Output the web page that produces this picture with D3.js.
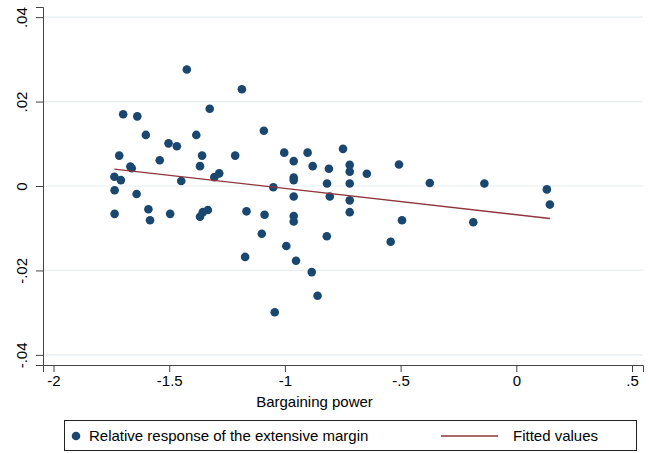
<!DOCTYPE html>
<html>
<head>
<meta charset="utf-8">
<script src="https://cdn.jsdelivr.net/npm/d3@7"></script>
<style>
  body { margin: 0; background: #fff; }
  svg { display: block; font-family: "Liberation Sans", Arial, sans-serif; }
</style>
</head>
<body>
<svg id="chart"></svg>
<script>
// bargaining power (x) and relative response of the extensive margin (y)
const bargaining = [
  -1.424, -1.186, -1.699, -1.638, -1.325, -1.601, -1.383, -1.091, -1.503, -1.467,
  -1.716, -1.541, -1.358, -1.367, -1.215, -1.003, -0.962, -1.668, -1.662, -1.737,
  -1.709, -1.448, -1.305, -1.284, -1.050, -0.962, -0.962, -1.736, -1.641, -0.962,
  -1.590, -1.583, -1.736, -1.496, -1.367, -1.355, -1.333, -1.166, -1.088, -0.962,
  -0.962, -1.172, -1.100, -0.994, -0.952, -1.044, -0.902, -0.749, -0.880, -0.810,
  -0.720, -0.720, -0.646, -0.507, -0.818, -0.720, -0.374, -0.806, -0.720, -0.720,
  -0.494, -0.819, -0.543, -0.884, -0.859, -0.138, 0.132, 0.145, -0.186
];
const response = [
  0.0276, 0.0229, 0.0170, 0.0165, 0.0183, 0.0121, 0.0121, 0.0131, 0.0101, 0.0094,
  0.0072, 0.0061, 0.0072, 0.0047, 0.0072, 0.0079, 0.0059, 0.0046, 0.0042, 0.0022,
  0.0014, 0.0012, 0.0021, 0.0030, -0.0003, 0.0020, 0.0014, -0.0010, -0.0019, -0.0025,
  -0.0055, -0.0081, -0.0066, -0.0066, -0.0073, -0.0062, -0.0057, -0.0060, -0.0068, -0.0071,
  -0.0084, -0.0168, -0.0113, -0.0142, -0.0177, -0.0299, 0.0079, 0.0088, 0.0047, 0.0041,
  0.0050, 0.0034, 0.0029, 0.0051, 0.0006, 0.0006, 0.0007, -0.0025, -0.0034, -0.0062,
  -0.0081, -0.0119, -0.0132, -0.0204, -0.0260, 0.0006, -0.0008, -0.0044, -0.0086
];
// fitted values line, end points
const fitX = [-1.737, 0.145];
const fitY = [0.0040, -0.0077];

const xTicks = [-2, -1.5, -1, -0.5, 0, 0.5];
const xTickLabels = ["-2", "-1.5", "-1", "-.5", "0", ".5"];
const yTicks = [-0.04, -0.02, 0, 0.02, 0.04];
const yTickLabels = ["-.04", "-.02", "0", ".02", ".04"];

const width = 649, height = 453;
const margin = { top: 7, right: 6, bottom: 88, left: 43 };
const navy = "#1a476f", maroon = "#90353b";
const fs = 15;

const svg = d3.select("#chart").attr("width", width).attr("height", height);

const x = d3.scaleLinear().domain([-2.0455, 0.5475]).range([margin.left, width - margin.right]);
const y = d3.scaleLinear().domain([-0.0424, 0.0424]).range([height - margin.bottom, margin.top]);

// grid lines
svg.append("g").selectAll("line")
  .data(yTicks)
  .join("line")
  .attr("x1", margin.left).attr("x2", width - margin.right)
  .attr("y1", d => y(d)).attr("y2", d => y(d))
  .attr("stroke", "#e6eef1").attr("stroke-width", 1.2);

// y axis
const yAxis = svg.append("g")
  .attr("transform", `translate(${margin.left},0)`)
  .call(d3.axisLeft(y).tickValues(yTicks).tickFormat((d, i) => yTickLabels[i]).tickSize(7));
yAxis.select(".domain").attr("stroke", "#444");
yAxis.selectAll(".tick line").attr("stroke", "#444");
yAxis.selectAll(".tick text")
  .attr("x", 0).attr("y", 0).attr("dy", 0)
  .attr("transform", "translate(-20,0) rotate(-90)")
  .attr("text-anchor", "middle")
  .attr("dominant-baseline", "middle")
  .attr("font-size", fs).attr("fill", "#000");

// x axis
const xAxis = svg.append("g")
  .attr("transform", `translate(0,${height - margin.bottom})`)
  .call(d3.axisBottom(x).tickValues(xTicks).tickFormat((d, i) => xTickLabels[i]).tickSize(7).tickPadding(3));
xAxis.select(".domain").attr("stroke", "#444");
xAxis.selectAll(".tick line").attr("stroke", "#444");
xAxis.selectAll(".tick text").attr("font-size", fs).attr("fill", "#000");

svg.append("text")
  .attr("x", 314.5).attr("y", 407)
  .attr("text-anchor", "middle").attr("font-size", fs)
  .text("Bargaining power");

// points
svg.append("g").selectAll("circle")
  .data(bargaining.map((b, i) => [b, response[i]]))
  .join("circle")
  .attr("cx", d => x(d[0]))
  .attr("cy", d => y(d[1]))
  .attr("r", 4.3)
  .attr("fill", navy);

// fitted line
svg.append("line")
  .attr("x1", x(fitX[0])).attr("y1", y(fitY[0]))
  .attr("x2", x(fitX[1])).attr("y2", y(fitY[1]))
  .attr("stroke", maroon).attr("stroke-width", 1.3);

// legend
const legend = svg.append("g");
legend.append("rect")
  .attr("x", 64.5).attr("y", 420.5).attr("width", 572).attr("height", 30)
  .attr("fill", "#fff").attr("stroke", "#222").attr("stroke-width", 1);
legend.append("circle").attr("cx", 76).attr("cy", 436).attr("r", 4.3).attr("fill", navy);
legend.append("text").attr("x", 89).attr("y", 441).attr("font-size", fs)
  .text("Relative response of the extensive margin");
legend.append("line")
  .attr("x1", 441).attr("x2", 498).attr("y1", 436).attr("y2", 436)
  .attr("stroke", maroon).attr("stroke-width", 1.3);
legend.append("text").attr("x", 513).attr("y", 441).attr("font-size", fs)
  .text("Fitted values");
</script>
</body>
</html>
